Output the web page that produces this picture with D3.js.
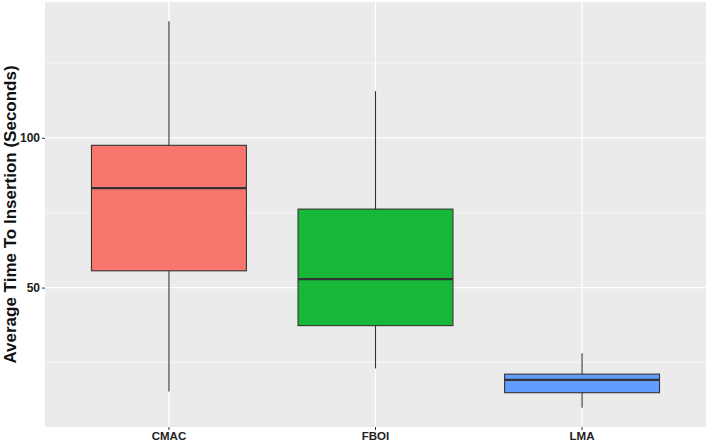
<!DOCTYPE html>
<html>
<head>
<meta charset="utf-8">
<script src="https://cdn.jsdelivr.net/npm/d3@7"></script>
<style>
  html, body { margin: 0; padding: 0; background: #ffffff; }
  svg { display: block; }
  text { font-family: "Liberation Sans", Arial, sans-serif; font-weight: bold; }
</style>
</head>
<body>
<svg id="chart" width="708" height="443"></svg>
<script>
// ---- data ----
const categories = ["CMAC", "FBOI", "LMA"];
const whiskerLow  = [15.3, 23.0, 9.9];
const q1          = [55.6, 37.3, 14.9];
const median      = [83.2, 52.8, 19.2];
const q3          = [97.5, 76.2, 21.1];
const whiskerHigh = [138.9, 115.6, 28.1];
const fills = ["#F8766D", "#17B838", "#619CFF"];
const yMajorTicks = [50, 100];
const yMinorTicks = [25, 75, 125];
const yTitle = "Average Time To Insertion (Seconds)";

// ---- layout ----
const svg = d3.select("#chart");
const panel = { left: 45, right: 706, top: 2, bottom: 427 };

const dataMin = d3.min(whiskerLow), dataMax = d3.max(whiskerHigh);
const pad = (dataMax - dataMin) * 0.05;
const y = d3.scaleLinear()
  .domain([dataMin - pad, dataMax + pad])
  .range([panel.bottom, panel.top]);

// discrete scale: categories at 1..n, limits [0.4, n+0.6]
const n = categories.length;
const xc = d3.scaleLinear().domain([0.4, n + 0.6]).range([panel.left, panel.right]);
const xPos = c => xc(categories.indexOf(c) + 1);
const bw = xc(1.75) - xc(1);

// background
svg.append("rect")
  .attr("x", panel.left).attr("y", panel.top)
  .attr("width", panel.right - panel.left).attr("height", panel.bottom - panel.top)
  .attr("fill", "#EBEBEB");

// minor grid
svg.append("g").selectAll("line").data(yMinorTicks).join("line")
  .attr("x1", panel.left).attr("x2", panel.right)
  .attr("y1", d => y(d)).attr("y2", d => y(d))
  .attr("stroke", "#ffffff").attr("stroke-width", 0.6);

// major grid
svg.append("g").selectAll("line").data(yMajorTicks).join("line")
  .attr("x1", panel.left).attr("x2", panel.right)
  .attr("y1", d => y(d)).attr("y2", d => y(d))
  .attr("stroke", "#ffffff").attr("stroke-width", 1.2);
svg.append("g").selectAll("line").data(categories).join("line")
  .attr("x1", d => xPos(d)).attr("x2", d => xPos(d))
  .attr("y1", panel.top).attr("y2", panel.bottom)
  .attr("stroke", "#ffffff").attr("stroke-width", 1.2);

// boxes
const idx = d3.range(n);
const g = svg.append("g");
g.selectAll("line.wl").data(idx).join("line").attr("class", "wl")
  .attr("x1", i => xPos(categories[i])).attr("x2", i => xPos(categories[i]))
  .attr("y1", i => y(q1[i])).attr("y2", i => y(whiskerLow[i]))
  .attr("stroke", "#333333").attr("stroke-width", 1.1);
g.selectAll("line.wh").data(idx).join("line").attr("class", "wh")
  .attr("x1", i => xPos(categories[i])).attr("x2", i => xPos(categories[i]))
  .attr("y1", i => y(q3[i])).attr("y2", i => y(whiskerHigh[i]))
  .attr("stroke", "#333333").attr("stroke-width", 1.1);
g.selectAll("rect.box").data(idx).join("rect").attr("class", "box")
  .attr("x", i => xPos(categories[i]) - bw / 2)
  .attr("width", bw)
  .attr("y", i => y(q3[i]))
  .attr("height", i => y(q1[i]) - y(q3[i]))
  .attr("fill", i => fills[i])
  .attr("stroke", "#333333").attr("stroke-width", 1.1);
g.selectAll("line.med").data(idx).join("line").attr("class", "med")
  .attr("x1", i => xPos(categories[i]) - bw / 2).attr("x2", i => xPos(categories[i]) + bw / 2)
  .attr("y1", i => y(median[i])).attr("y2", i => y(median[i]))
  .attr("stroke", "#333333").attr("stroke-width", 2.3);

// y axis
const yAxis = d3.axisLeft(y).tickValues(yMajorTicks).tickSize(3).tickPadding(2);
const ya = svg.append("g").attr("transform", `translate(${panel.left},0)`).call(yAxis);
ya.select(".domain").remove();
ya.selectAll(".tick line").attr("stroke", "#333333").attr("stroke-width", 1);
ya.selectAll(".tick text").attr("fill", "#222222").attr("font-size", 12)
  .style("font-family", "'Liberation Sans', Arial, sans-serif").style("font-weight", "bold");

// x axis
const xa = svg.append("g").attr("transform", `translate(0,${panel.bottom})`);
xa.selectAll("line").data(categories).join("line")
  .attr("x1", d => xPos(d)).attr("x2", d => xPos(d))
  .attr("y1", 0).attr("y2", 3)
  .attr("stroke", "#333333").attr("stroke-width", 1);
xa.selectAll("text").data(categories).join("text")
  .attr("x", d => xPos(d)).attr("y", 13)
  .attr("text-anchor", "middle")
  .attr("font-size", 11.5).attr("fill", "#222222")
  .text(d => d);

// y title
svg.append("text")
  .attr("transform", `translate(16,${(panel.top + panel.bottom) / 2}) rotate(-90)`)
  .attr("text-anchor", "middle")
  .attr("font-size", 17).attr("fill", "#111111")
  .text(yTitle);
</script>
</body>
</html>
